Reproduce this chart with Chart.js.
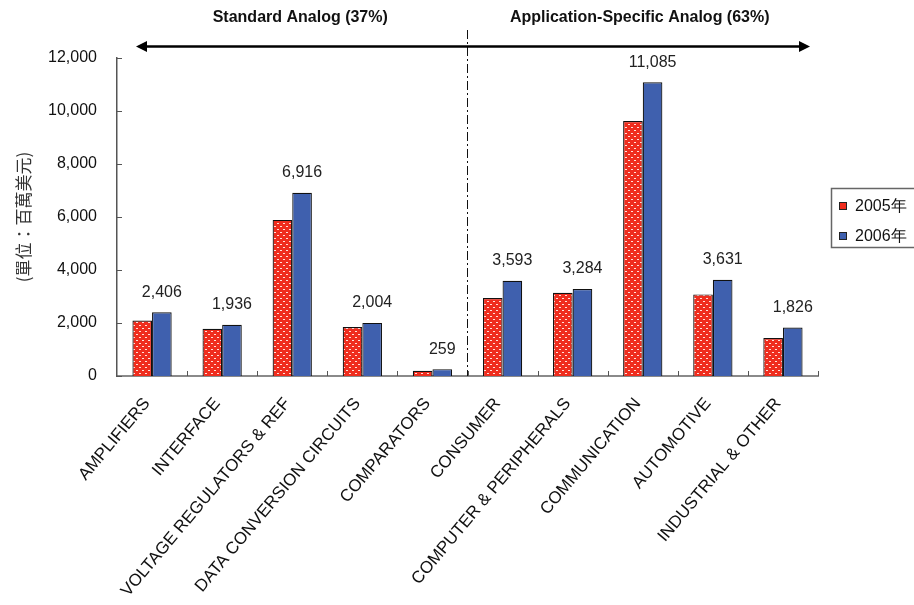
<!DOCTYPE html>
<html>
<head>
<meta charset="utf-8">
<script src="https://cdn.jsdelivr.net/npm/chart.js@4/dist/chart.umd.min.js"></script>
<style>
  html, body { margin: 0; padding: 0; background: #fff; }
  #wrap { position: relative; width: 914px; height: 605px; }
  canvas { display: block; }
</style>
</head>
<body>
<div id="wrap"><canvas id="c" width="914" height="605"></canvas></div>
<script>
// Analog IC market by segment (millions of USD)
const categories = [
  'AMPLIFIERS', 'INTERFACE', 'VOLTAGE REGULATORS & REF', 'DATA CONVERSION CIRCUITS',
  'COMPARATORS', 'CONSUMER', 'COMPUTER & PERIPHERALS', 'COMMUNICATION',
  'AUTOMOTIVE', 'INDUSTRIAL & OTHER'
];
const values2005 = [2090, 1780, 5890, 1850, 200, 2940, 3140, 9620, 3080, 1430];
const values2006 = [2406, 1936, 6916, 2004, 259, 3593, 3284, 11085, 3631, 1826];
const seriesNames = ['2005年', '2006年'];
const yTicks = [0, 2000, 4000, 6000, 8000, 10000, 12000];
const groupTitles = ['Standard Analog (37%)', 'Application-Specific Analog (63%)'];
const yTitle = '(單位：百萬美元)';
const standardCount = 5; // first five categories form the standard-analog group

const FONT = '"Liberation Sans", Arial, sans-serif';
const RED = '#EF2D1E';
const BLUE = '#3F60AE';

// red fill with a white dot lattice
function dotPattern() {
  const p = document.createElement('canvas');
  p.width = 6; p.height = 6;
  const g = p.getContext('2d');
  g.fillStyle = RED;
  g.fillRect(0, 0, 6, 6);
  g.fillStyle = 'rgba(255,235,230,0.95)';
  g.fillRect(1, 1, 2, 1);
  g.fillRect(4, 4, 2, 1);
  return g.createPattern(p, 'repeat');
}
const ctx0 = document.getElementById('c').getContext('2d');
const redFill = dotPattern();

const decorations = {
  id: 'decorations',
  afterDraw(chart) {
    const ctx = chart.ctx;
    const x = chart.scales.x, y = chart.scales.y;
    const area = chart.chartArea;
    ctx.save();

    // inner tick marks on the value axis
    ctx.strokeStyle = '#555';
    ctx.lineWidth = 1;
    yTicks.forEach(v => {
      const py = Math.round(y.getPixelForValue(v)) + 0.5;
      ctx.beginPath();
      ctx.moveTo(area.left, py);
      ctx.lineTo(area.left + 5, py);
      ctx.stroke();
    });
    // inner tick marks at category boundaries
    for (let i = 1; i <= categories.length; i++) {
      const bx = i < categories.length
        ? (x.getPixelForValue(i - 1) + x.getPixelForValue(i)) / 2
        : area.right;
      const px = Math.round(bx) + 0.5;
      ctx.beginPath();
      ctx.moveTo(px, area.bottom);
      ctx.lineTo(px, area.bottom - 5);
      ctx.stroke();
    }

    // value labels above the 2006 bars
    const meta = chart.getDatasetMeta(1);
    ctx.fillStyle = '#222';
    ctx.font = '16px ' + FONT;
    ctx.textAlign = 'center';
    ctx.textBaseline = 'middle';
    meta.data.forEach((bar, i) => {
      ctx.fillText(values2006[i].toLocaleString('en-US'), bar.x, bar.y - 20);
    });

    // group divider (dash-dot)
    const divX = (x.getPixelForValue(standardCount - 1) + x.getPixelForValue(standardCount)) / 2;
    ctx.strokeStyle = '#111';
    ctx.lineWidth = 1;
    ctx.setLineDash([9, 3, 2, 3]);
    ctx.beginPath();
    ctx.moveTo(Math.round(divX) - 0.5, 30);
    ctx.lineTo(Math.round(divX) - 0.5, area.bottom);
    ctx.stroke();
    ctx.setLineDash([]);

    // double-headed arrow spanning both groups
    const ay = 46.5, ax1 = area.left + 19, ax2 = area.right - 8;
    ctx.strokeStyle = '#000';
    ctx.fillStyle = '#000';
    ctx.lineWidth = 2.5;
    ctx.beginPath();
    ctx.moveTo(ax1 + 8, ay);
    ctx.lineTo(ax2 - 8, ay);
    ctx.stroke();
    ctx.beginPath();
    ctx.moveTo(ax1, ay); ctx.lineTo(ax1 + 11, ay - 5.5); ctx.lineTo(ax1 + 11, ay + 5.5); ctx.closePath();
    ctx.fill();
    ctx.beginPath();
    ctx.moveTo(ax2, ay); ctx.lineTo(ax2 - 11, ay - 5.5); ctx.lineTo(ax2 - 11, ay + 5.5); ctx.closePath();
    ctx.fill();

    // group titles
    ctx.font = 'bold 16px ' + FONT;
    ctx.fillStyle = '#111';
    ctx.fillText(groupTitles[0], (area.left + divX) / 2 + 8, 18);
    ctx.fillText(groupTitles[1], (divX + area.right) / 2 - 3, 18);

    // legend box (runs off the right edge)
    ctx.strokeStyle = '#666';
    ctx.lineWidth = 1.5;
    ctx.strokeRect(831.5, 188.5, 100, 59);
    const rows = [206, 236];
    ctx.font = '16px ' + FONT;
    ctx.textAlign = 'left';
    rows.forEach((ry, i) => {
      ctx.fillStyle = i === 0 ? RED : BLUE;
      ctx.fillRect(839, ry - 4, 8, 8);
      ctx.strokeStyle = '#222';
      ctx.lineWidth = 1;
      ctx.strokeRect(839.5, ry - 3.5, 7, 7);
      ctx.fillStyle = '#111';
      ctx.fillText(seriesNames[i], 855, ry + 1);
    });

    ctx.restore();
  }
};

new Chart(ctx0, {
  type: 'bar',
  data: {
    labels: categories,
    datasets: [
      { label: seriesNames[0], data: values2005, backgroundColor: redFill,
        borderColor: '#111', borderWidth: 1.2, borderSkipped: 'bottom' },
      { label: seriesNames[1], data: values2006, backgroundColor: BLUE,
        borderColor: '#111', borderWidth: 1.2, borderSkipped: 'bottom' }
    ]
  },
  options: {
    responsive: false,
    animation: false,
    events: [],
    layout: { padding: { top: 58, right: 96, bottom: 0, left: 0 } },
    datasets: { bar: { categoryPercentage: 0.56, barPercentage: 1 } },
    plugins: { legend: { display: false }, tooltip: { enabled: false } },
    scales: {
      x: {
        grid: { display: false, drawTicks: false },
        border: { display: true, color: '#8a8a8a', width: 2 },
        ticks: {
          color: '#111',
          font: { family: FONT, size: 17 },
          minRotation: 50, maxRotation: 50,
          padding: 18,
          labelOffset: -5,
          autoSkip: false
        },
        afterFit(s) { s.height = 229; }
      },
      y: {
        min: 0, max: 12000,
        afterBuildTicks(s) { s.ticks = yTicks.map(v => ({ value: v })); },
        grid: { display: false, drawTicks: false },
        border: { display: true, color: '#555', width: 1.5 },
        ticks: {
          color: '#111',
          font: { family: FONT, size: 16 },
          padding: 20,
          callback: v => v.toLocaleString('en-US')
        },
        title: {
          display: true,
          text: yTitle,
          color: '#333',
          font: { family: '"Noto Sans CJK TC", "Noto Sans CJK SC", sans-serif', size: 17 },
          padding: { top: 13, bottom: 0 }
        },
        afterFit(s) { s.width = 117; }
      }
    }
  },
  plugins: [decorations]
});
</script>
</body>
</html>
